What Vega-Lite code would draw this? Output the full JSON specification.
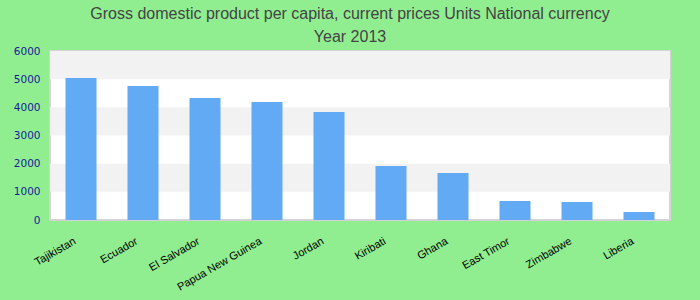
{
  "$schema": "https://vega.github.io/schema/vega-lite/v6.json",
  "width": 620,
  "height": 169,
  "autosize": {"type": "none"},
  "padding": {"left": 50, "top": 51, "right": 30, "bottom": 80},
  "background": "#90EE90",
  "title": {
    "text": ["Gross domestic product per capita, current prices Units National currency", "Year 2013"],
    "font": "Liberation Sans",
    "fontSize": 16,
    "fontWeight": "normal",
    "color": "#444444",
    "lineHeight": 23,
    "anchor": "middle",
    "dx": -10,
    "offset": 1
  },
  "config": {
    "view": {"stroke": "#d4d4d4", "strokeWidth": 2, "fill": "#ffffff"},
    "axisY": {
      "title": null,
      "values": [0, 1000, 2000, 3000, 4000, 5000, 6000],
      "format": "d",
      "labelOverlap": false,
      "grid": false,
      "ticks": false,
      "domain": false,
      "labelFont": "DejaVu Sans",
      "labelFontSize": 10.5,
      "labelColor": "#1a1a9c",
      "labelPadding": 10
    }
  },
  "datasets": {
    "bands": [
      {"from": 1000, "to": 2000},
      {"from": 3000, "to": 4000},
      {"from": 5000, "to": 6000}
    ],
    "gdp": [
      {"country": "Tajikistan", "value": 5041},
      {"country": "Ecuador", "value": 4757},
      {"country": "El Salvador", "value": 4331},
      {"country": "Papua New Guinea", "value": 4189},
      {"country": "Jordan", "value": 3834},
      {"country": "Kiribati", "value": 1917},
      {"country": "Ghana", "value": 1669},
      {"country": "East Timor", "value": 675},
      {"country": "Zimbabwe", "value": 639},
      {"country": "Liberia", "value": 284}
    ]
  },
  "layer": [
    {
      "data": {"name": "bands"},
      "mark": {"type": "rect", "fill": "#f2f2f2"},
      "encoding": {
        "y": {"field": "from", "type": "quantitative", "scale": {"domain": [0, 6000]}, "axis": {"title": null}},
        "y2": {"field": "to"}
      }
    },
    {
      "data": {"name": "gdp"},
      "mark": {"type": "bar", "color": "#62aaf4"},
      "encoding": {
        "x": {
          "field": "country",
          "type": "nominal",
          "sort": null,
          "scale": {"paddingInner": 0.5, "paddingOuter": 0.25},
          "axis": {
            "title": null,
            "labelAngle": -30,
            "labelAlign": "right",
            "labelBaseline": "top",
            "labelFont": "Liberation Sans",
            "labelFontSize": 11,
            "labelColor": "#000000",
            "ticks": false,
            "domain": false,
            "labelPadding": 15,
            "labelOffset": -9
          }
        },
        "y": {
          "field": "value",
          "type": "quantitative",
          "scale": {"domain": [0, 6000]},
          "axis": {"title": null}
        }
      }
    }
  ]
}
